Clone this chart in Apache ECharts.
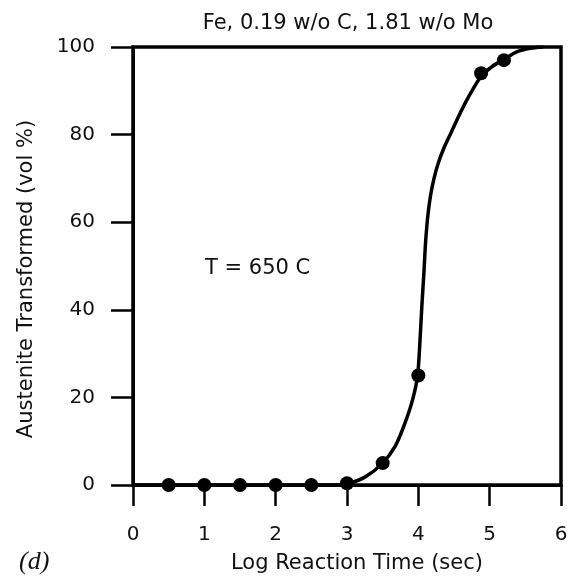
<!DOCTYPE html>
<html>
<head>
<meta charset="utf-8">
<script src="https://cdn.jsdelivr.net/npm/echarts@6/dist/echarts.min.js"></script>
<title>Austenite transformed</title>
<style>
  html, body { margin: 0; padding: 0; background: #fff; }
  #main { width: 571px; height: 581px; }
</style>
</head>
<body>
<div id="main"></div>
<script type="text/javascript">
// measured points (log time, vol %)
var pointX = [0.5, 1, 1.5, 2, 2.5, 3, 3.5, 4, 4.88, 5.2];
var pointY = [0, 0, 0, 0, 0, 0.4, 5, 25, 94, 97];

// hand-drawn curve
var curveX = [0, 2.8, 3.0, 3.25, 3.5, 3.68, 3.81, 3.92, 3.99, 4.02, 4.05, 4.08, 4.1, 4.13, 4.17, 4.22,
              4.28, 4.36, 4.46, 4.56, 4.66, 4.77, 4.88, 5.04, 5.2, 5.38, 5.57, 5.75];
var curveY = [0, 0, 0.3, 1.8, 5, 9, 14, 19.5, 25, 32, 41, 49, 55, 61, 66, 70,
              73.5, 77, 80.5, 84, 87.3, 90.5, 93.3, 95.6, 97.2, 98.9, 99.7, 100];

var xTicks = [0, 1, 2, 3, 4, 5, 6];
var yTicks = [0, 20, 40, 60, 80, 100];

var font = 'DejaVu Sans';

var myChart = echarts.init(document.getElementById('main'));
var option = {
    animation: false,
    title: {
        text: 'Fe, 0.19 w/o C, 1.81 w/o Mo',
        left: 343,
        top: 8,
        textAlign: 'center',
        textStyle: { fontFamily: font, fontSize: 21, fontWeight: 'normal', color: '#111' }
    },
    grid: {
        left: 133, right: 10, top: 47, bottom: 96,
        show: true, borderColor: '#000', borderWidth: 3.5, backgroundColor: 'transparent'
    },
    xAxis: {
        type: 'value',
        min: xTicks[0], max: xTicks[xTicks.length - 1], interval: 1,
        name: 'Log Reaction Time (sec)',
        nameLocation: 'middle',
        nameGap: 68,
        nameTextStyle: { fontFamily: font, fontSize: 21, color: '#111', padding: [0, 0, 0, 20] },
        axisLine: { lineStyle: { color: '#000', width: 3 } },
        axisTick: { length: 21, lineStyle: { color: '#000', width: 2.5 } },
        axisLabel: { margin: 40, fontFamily: font, fontSize: 20, color: '#111' },
        splitLine: { show: false }
    },
    yAxis: {
        type: 'value',
        min: yTicks[0], max: yTicks[yTicks.length - 1], interval: 20,
        name: 'Austenite Transformed (vol %)',
        nameLocation: 'middle',
        nameGap: 96,
        nameTextStyle: { fontFamily: font, fontSize: 21, color: '#111', padding: [0, 26, 0, 0] },
        axisLine: { lineStyle: { color: '#000', width: 3 } },
        axisTick: { length: 22, lineStyle: { color: '#000', width: 2.5 } },
        axisLabel: { margin: 38, fontFamily: font, fontSize: 20, color: '#111' },
        splitLine: { show: false }
    },
    graphic: [
        {
            type: 'text', left: 205, top: 258,
            style: { text: 'T = 650 C', fontFamily: font, fontSize: 21, fill: '#111' }
        },
        {
            type: 'text', left: 19, top: 549,
            style: { text: '(d)', fontFamily: 'Liberation Serif', fontSize: 26, fontStyle: 'italic', fill: '#111' }
        }
    ],
    series: [
        {
            name: 'curve',
            type: 'line',
            data: curveX.map(function (x, i) { return [x, curveY[i]]; }),
            smooth: 0.25,
            showSymbol: false,
            lineStyle: { color: '#000', width: 3.5 },
            z: 3
        },
        {
            name: 'points',
            type: 'scatter',
            data: pointX.map(function (x, i) { return [x, pointY[i]]; }),
            symbolSize: 14,
            itemStyle: { color: '#000', opacity: 1 },
            z: 4
        }
    ]
};
myChart.setOption(option);
</script>
</body>
</html>
